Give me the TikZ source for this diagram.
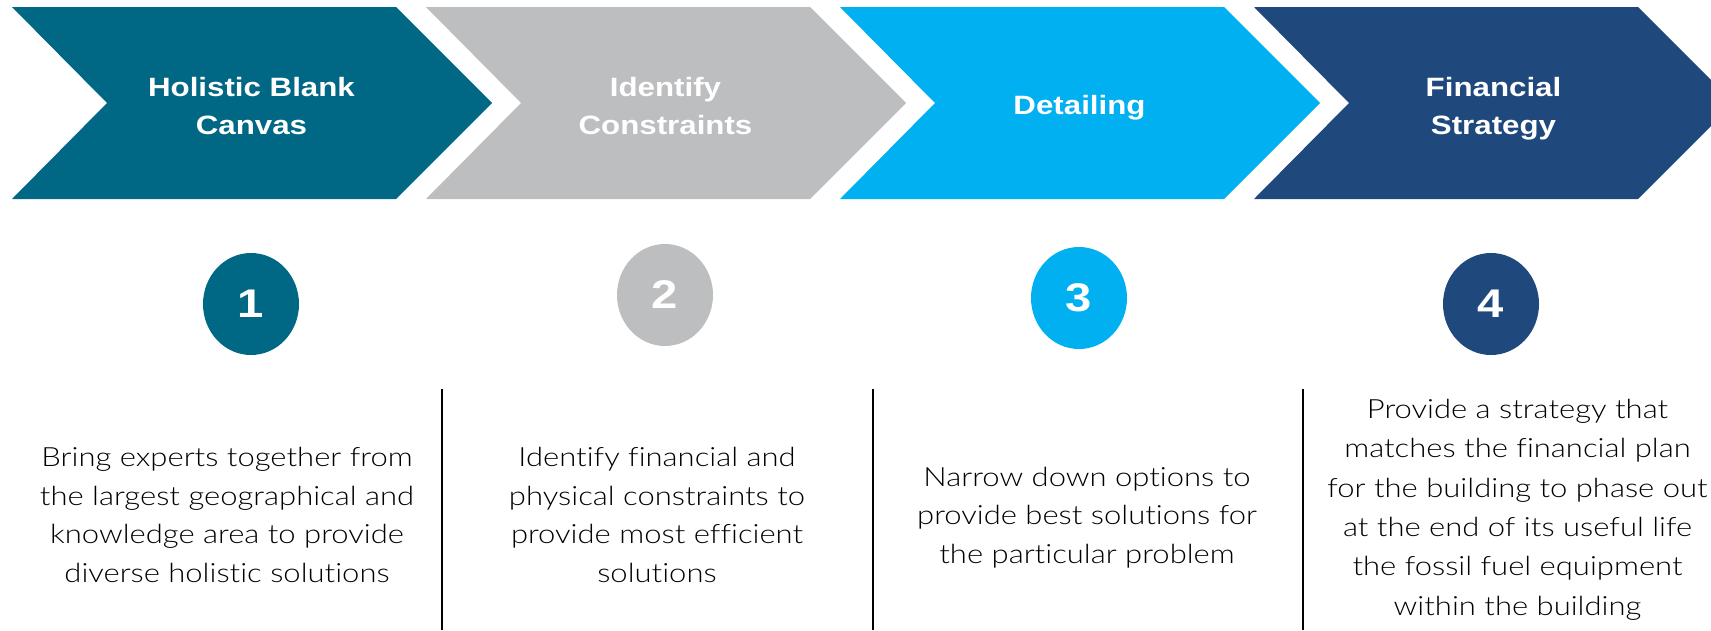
\documentclass[tikz,border=0pt]{standalone}
\usepackage{fontspec}
\setmainfont{Liberation Sans}[FakeStretch=1.18]
\newfontfamily\bodyfont{Lato Light}[FakeStretch=1.17, Ligatures=NoCommon]
\usetikzlibrary{shapes.geometric}
\definecolor{cteal}{RGB}{0,104,132}
\definecolor{cgrey}{RGB}{189,190,192}
\definecolor{ccyan}{RGB}{0,176,240}
\definecolor{cnavy}{RGB}{31,73,125}
\begin{document}
\begin{tikzpicture}[x=1pt,y=-1pt,
  headtxt/.style={text=white, font=\fontsize{26.5}{38}\selectfont\bfseries, align=center, inner sep=0pt},
  numcirc/.style={ellipse, fill=#1, minimum width=96pt, minimum height=102pt, inner sep=0pt, text=white, font=\fontsize{40}{40}\selectfont\bfseries},
  bodytxt/.style={font=\bodyfont\fontsize{26.5}{38.5}\selectfont, align=center, inner sep=0pt, text=black},
  sepline/.style={line width=2.5pt, black}]
\useasboundingbox (0,0) rectangle (1711,630);
\begin{scope}
\clip (0,0) rectangle (1711,630);
\foreach \L/\c in {12/cteal, 426/cgrey, 840/ccyan, 1254/cnavy} {
  \fill[\c] (\L,7) -- ++(384,0) -- ++(96,96) -- ++(-96,96) -- ++(-384,0) -- ++(95,-96) -- cycle;
}
\end{scope}
% headings
\node[headtxt] (h1) at (251.5,106.4) {Holistic Blank\\Canvas};
\node[headtxt] (h2) at (665.5,106.4) {Identify\\Constraints};
\node[headtxt, anchor=base] (h3) at (1079.5,114) {Detailing};
\node[headtxt] (h4) at (1493.5,108.6) {Financial\\Strategy};
% number circles
\node[numcirc=cteal] (c1) at (251,304) {1};
\node[numcirc=cgrey] (c2) at (665,295) {2};
\node[numcirc=ccyan] (c3) at (1079,298) {3};
\node[numcirc=cnavy] (c4) at (1491,304) {4};
% separators
\coordinate (s1t) at (442,389); \coordinate (s1b) at (442,630);
\coordinate (s2t) at (873,389); \coordinate (s2b) at (873,630);
\coordinate (s3t) at (1303,389); \coordinate (s3b) at (1303,630);
\draw[sepline] (s1t) -- (s1b);
\draw[sepline] (s2t) -- (s2b);
\draw[sepline] (s3t) -- (s3b);
% descriptions
\node[bodytxt] (t1) at (227,515) {Bring experts together from\\the largest geographical and\\knowledge area to provide\\diverse holistic solutions};
\node[bodytxt] (t2) at (657,515) {Identify financial and\\physical constraints to\\provide most efficient\\solutions};
\node[bodytxt] (t3) at (1087,517.6) {Narrow down options to\\provide best solutions for\\the particular problem};
\node[bodytxt, font=\bodyfont\fontsize{26.5}{39.4}\selectfont] (t4) at (1517.5,509.6) {Provide a strategy that\\matches the financial plan\\for the building to phase out\\at the end of its useful life\\the fossil fuel equipment\\within the building};
\end{tikzpicture}
\end{document}
